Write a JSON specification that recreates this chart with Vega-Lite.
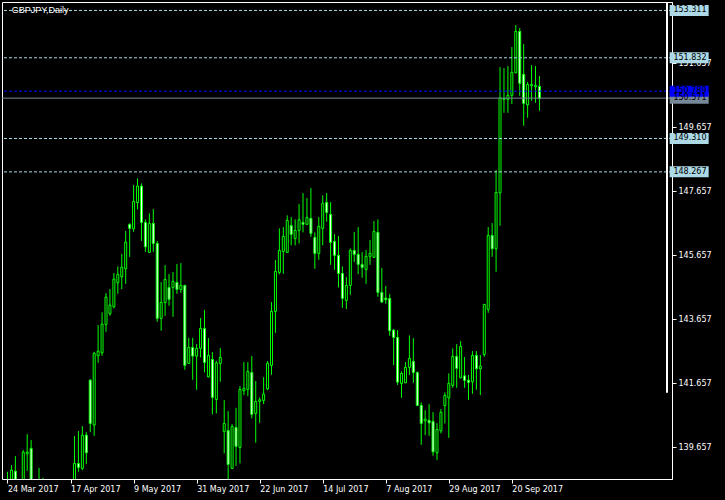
{
"$schema":"https://vega.github.io/schema/vega-lite/v6.json",
"width":670,"height":477,
"autosize":{"type":"none"},
"padding":{"left":2,"top":2,"right":53,"bottom":21},
"background":"black",
"view":{"stroke":"white","strokeWidth":1,"fill":"black"},
"config":{"axis":{"labelColor":"white","tickColor":"white","domainColor":"white","grid":false,"labelFont":"DejaVu Sans","labelFontSize":8,"tickSize":4,"zindex":0}},
"datasets":{
"candles":[
{"i":0,"o":138.40,"h":138.894,"l":138.20,"c":138.60},
{"i":1,"o":138.55,"h":139.104,"l":138.45,"c":138.948},
{"i":2,"o":138.916,"h":139.385,"l":138.40,"c":138.50},
{"i":3,"o":138.50,"h":138.62,"l":138.25,"c":138.45},
{"i":4,"o":138.45,"h":139.573,"l":138.35,"c":139.51},
{"i":5,"o":139.457,"h":140.073,"l":138.926,"c":139.51},
{"i":6,"o":139.626,"h":139.885,"l":138.50,"c":138.60},
{"i":7,"o":138.60,"h":138.65,"l":138.20,"c":138.30},
{"i":8,"o":138.40,"h":139.02,"l":138.10,"c":138.30},
{"i":9,"o":138.35,"h":138.707,"l":138.00,"c":138.20},
{"i":10,"o":138.20,"h":138.55,"l":137.90,"c":138.10},
{"i":11,"o":138.10,"h":138.40,"l":137.80,"c":138.30},
{"i":12,"o":138.30,"h":138.60,"l":138.00,"c":138.15},
{"i":13,"o":138.15,"h":138.50,"l":137.85,"c":138.35},
{"i":14,"o":138.35,"h":138.62,"l":138.05,"c":138.25},
{"i":15,"o":138.25,"h":138.60,"l":137.95,"c":138.40},
{"i":16,"o":138.40,"h":138.64,"l":138.10,"c":138.50},
{"i":17,"o":138.55,"h":140.01,"l":138.45,"c":139.157},
{"i":18,"o":139.157,"h":140.166,"l":138.894,"c":139.032},
{"i":19,"o":139.001,"h":140.322,"l":138.948,"c":140.041},
{"i":20,"o":140.041,"h":140.135,"l":139.135,"c":139.488},
{"i":21,"o":141.76,"h":141.791,"l":140.135,"c":140.407},
{"i":22,"o":140.354,"h":142.644,"l":140.019,"c":142.594},
{"i":23,"o":142.519,"h":143.479,"l":142.301,"c":142.666},
{"i":24,"o":142.613,"h":143.876,"l":142.519,"c":143.51},
{"i":25,"o":143.501,"h":144.479,"l":143.269,"c":144.354},
{"i":26,"o":143.832,"h":144.604,"l":143.77,"c":144.104},
{"i":27,"o":144.051,"h":145.104,"l":144.001,"c":144.916},
{"i":28,"o":144.801,"h":145.313,"l":144.457,"c":145.063},
{"i":29,"o":144.988,"h":145.698,"l":144.604,"c":145.291},
{"i":30,"o":145.238,"h":146.416,"l":144.769,"c":146.073},
{"i":31,"o":146.626,"h":146.657,"l":145.613,"c":146.501},
{"i":32,"o":146.488,"h":147.854,"l":146.394,"c":147.344},
{"i":33,"o":147.31,"h":148.063,"l":147.094,"c":147.823},
{"i":34,"o":147.823,"h":147.907,"l":146.113,"c":146.688},
{"i":35,"o":146.688,"h":146.782,"l":145.769,"c":145.926},
{"i":36,"o":145.751,"h":146.97,"l":145.75,"c":146.657},
{"i":37,"o":146.657,"h":147.104,"l":145.769,"c":146.032},
{"i":38,"o":146.032,"h":146.104,"l":143.582,"c":143.688},
{"i":39,"o":143.688,"h":144.823,"l":143.301,"c":144.188},
{"i":40,"o":144.188,"h":145.354,"l":143.77,"c":144.907},
{"i":41,"o":144.657,"h":145.073,"l":144.082,"c":144.282},
{"i":42,"o":144.657,"h":145.135,"l":143.738,"c":144.844},
{"i":43,"o":144.813,"h":145.385,"l":144.457,"c":144.594},
{"i":44,"o":144.594,"h":145.416,"l":144.488,"c":144.719},
{"i":45,"o":144.719,"h":144.74,"l":142.082,"c":142.219},
{"i":46,"o":142.282,"h":143.082,"l":142.27,"c":142.782},
{"i":47,"o":142.782,"h":143.082,"l":141.769,"c":142.51},
{"i":48,"o":142.51,"h":142.885,"l":141.457,"c":142.751},
{"i":49,"o":142.751,"h":143.698,"l":142.469,"c":143.376},
{"i":50,"o":143.376,"h":143.948,"l":142.001,"c":142.313},
{"i":51,"o":141.863,"h":143.073,"l":141.844,"c":142.532},
{"i":52,"o":142.407,"h":142.635,"l":140.688,"c":141.219},
{"i":53,"o":141.157,"h":142.363,"l":140.719,"c":142.301},
{"i":54,"o":142.282,"h":142.76,"l":141.707,"c":142.469},
{"i":55,"o":140.157,"h":141.135,"l":139.469,"c":140.407},
{"i":56,"o":140.188,"h":140.791,"l":138.60,"c":139.126},
{"i":57,"o":139.001,"h":140.385,"l":138.99,"c":140.313},
{"i":58,"o":140.282,"h":140.894,"l":139.082,"c":139.688},
{"i":59,"o":139.657,"h":141.573,"l":139.157,"c":141.469},
{"i":60,"o":141.426,"h":142.323,"l":141.291,"c":141.501},
{"i":61,"o":141.469,"h":142.323,"l":141.26,"c":142.032},
{"i":62,"o":142.001,"h":142.51,"l":140.563,"c":140.688},
{"i":63,"o":140.719,"h":141.729,"l":139.801,"c":141.094},
{"i":64,"o":141.094,"h":141.219,"l":140.426,"c":141.144},
{"i":65,"o":141.126,"h":141.854,"l":141.01,"c":141.323},
{"i":66,"o":141.49,"h":142.354,"l":141.448,"c":142.291},
{"i":67,"o":142.219,"h":144.198,"l":141.926,"c":143.907},
{"i":68,"o":143.907,"h":145.51,"l":143.238,"c":145.157},
{"i":69,"o":145.126,"h":146.501,"l":145.063,"c":145.813},
{"i":70,"o":145.782,"h":146.541,"l":145.082,"c":146.251},
{"i":71,"o":145.751,"h":146.907,"l":145.74,"c":146.751},
{"i":72,"o":146.594,"h":146.854,"l":145.969,"c":146.313},
{"i":73,"o":146.188,"h":146.782,"l":145.969,"c":146.438},
{"i":74,"o":146.438,"h":147.26,"l":146.032,"c":146.769},
{"i":75,"o":146.688,"h":147.604,"l":146.376,"c":146.626},
{"i":76,"o":146.626,"h":147.448,"l":146.62,"c":146.844},
{"i":77,"o":146.813,"h":147.76,"l":146.238,"c":146.344},
{"i":78,"o":146.219,"h":146.376,"l":145.238,"c":145.719},
{"i":79,"o":145.719,"h":146.854,"l":145.52,"c":146.563},
{"i":80,"o":146.501,"h":147.532,"l":145.969,"c":147.282},
{"i":81,"o":147.313,"h":147.604,"l":146.707,"c":146.999},
{"i":82,"o":146.938,"h":147.323,"l":145.363,"c":146.063},
{"i":83,"o":146.094,"h":146.323,"l":145.207,"c":145.657},
{"i":84,"o":145.657,"h":146.26,"l":144.657,"c":145.094},
{"i":85,"o":145.094,"h":145.313,"l":144.019,"c":144.313},
{"i":86,"o":144.251,"h":144.979,"l":143.979,"c":144.719},
{"i":87,"o":144.719,"h":145.876,"l":144.426,"c":145.813},
{"i":88,"o":145.813,"h":146.385,"l":145.448,"c":145.688},
{"i":89,"o":145.688,"h":146.541,"l":145.073,"c":145.376},
{"i":90,"o":145.376,"h":145.76,"l":144.957,"c":145.282},
{"i":91,"o":145.219,"h":145.823,"l":144.769,"c":145.626},
{"i":92,"o":145.626,"h":146.135,"l":145.363,"c":145.719},
{"i":93,"o":145.594,"h":146.729,"l":145.58,"c":146.407},
{"i":94,"o":146.376,"h":146.782,"l":144.363,"c":144.501},
{"i":95,"o":144.501,"h":145.26,"l":144.176,"c":144.198},
{"i":96,"o":144.323,"h":144.698,"l":144.145,"c":144.271},
{"i":97,"o":144.313,"h":144.448,"l":143.145,"c":143.301},
{"i":98,"o":143.323,"h":143.354,"l":142.229,"c":143.094},
{"i":99,"o":143.094,"h":143.323,"l":141.613,"c":141.698},
{"i":100,"o":141.657,"h":142.032,"l":141.207,"c":141.97},
{"i":101,"o":141.676,"h":142.323,"l":141.67,"c":142.157},
{"i":102,"o":142.157,"h":143.157,"l":141.916,"c":142.438},
{"i":103,"o":142.344,"h":143.073,"l":141.676,"c":142.001},
{"i":104,"o":142.001,"h":142.02,"l":140.95,"c":140.97},
{"i":105,"o":140.97,"h":141.063,"l":139.738,"c":140.407},
{"i":106,"o":140.488,"h":140.823,"l":140.041,"c":140.541},
{"i":107,"o":140.501,"h":141.01,"l":140.019,"c":140.426},
{"i":108,"o":140.469,"h":140.76,"l":139.395,"c":139.52},
{"i":109,"o":139.488,"h":140.416,"l":139.26,"c":140.219},
{"i":110,"o":140.176,"h":140.854,"l":140.094,"c":140.751},
{"i":111,"o":140.963,"h":141.376,"l":140.407,"c":141.282},
{"i":112,"o":141.207,"h":141.969,"l":139.957,"c":141.657},
{"i":113,"o":141.594,"h":142.751,"l":141.52,"c":142.501},
{"i":114,"o":142.501,"h":142.885,"l":141.52,"c":142.126},
{"i":115,"o":141.832,"h":142.979,"l":141.82,"c":142.813},
{"i":116,"o":141.894,"h":142.479,"l":141.52,"c":141.751},
{"i":117,"o":141.76,"h":141.916,"l":141.144,"c":141.688},
{"i":118,"o":141.707,"h":142.666,"l":141.332,"c":142.532},
{"i":119,"o":142.532,"h":142.666,"l":141.457,"c":142.113},
{"i":120,"o":142.113,"h":142.541,"l":141.291,"c":142.198},
{"i":121,"o":142.563,"h":144.14,"l":142.488,"c":144.126},
{"i":122,"o":143.97,"h":146.541,"l":143.863,"c":146.282},
{"i":123,"o":146.282,"h":146.666,"l":145.613,"c":145.863},
{"i":124,"o":145.863,"h":148.323,"l":145.145,"c":147.626},
{"i":125,"o":147.613,"h":151.541,"l":146.582,"c":150.582},
{"i":126,"o":150.532,"h":151.51,"l":150.113,"c":150.563},
{"i":127,"o":150.532,"h":151.573,"l":150.113,"c":150.657},
{"i":128,"o":150.657,"h":152.166,"l":150.385,"c":151.376},
{"i":129,"o":151.363,"h":152.854,"l":151.35,"c":152.657},
{"i":130,"o":152.657,"h":152.76,"l":150.644,"c":151.032},
{"i":131,"o":151.313,"h":152.26,"l":149.707,"c":150.407},
{"i":132,"o":150.363,"h":151.073,"l":149.957,"c":150.999},
{"i":133,"o":150.957,"h":151.604,"l":150.488,"c":150.999},
{"i":134,"o":150.926,"h":151.573,"l":150.426,"c":150.969},
{"i":135,"o":150.938,"h":151.26,"l":150.176,"c":150.563}
],
"levels":[
{"p":153.311,"k":"lvl"},{"p":151.832,"k":"lvl"},{"p":149.310,"k":"lvl"},{"p":148.267,"k":"lvl"},
{"p":150.571,"k":"bid"},{"p":150.789,"k":"ask"}
],
"caption":[{"t":"GBPJPY,Daily","i":1.05,"p":153.32}]
},
"layer":[
{"data":{"name":"candles"},
 "mark":{"type":"rule","color":"#00FF00","strokeWidth":1,"clip":true},
 "encoding":{
  "x":{"field":"i","type":"quantitative","title":null,
       "scale":{"domain":[-0.125,167.375],"nice":false,"zero":false},
       "axis":{"orient":"bottom","values":[0,16,32,48,64,80,96,112,128],"domain":false,"labelAlign":"left","labelBaseline":"top","labelPadding":2,"labelFlush":false,"labelOverlap":false,
               "labelExpr":"['24 Mar 2017','17 Apr 2017','9 May 2017','31 May 2017','22 Jun 2017','14 Jul 2017','7 Aug 2017','29 Aug 2017','20 Sep 2017'][round(datum.value/16)]"}},
  "y":{"field":"l","type":"quantitative","title":null,
       "scale":{"domain":[138.67,153.575],"nice":false,"zero":false},
       "axis":{"orient":"right","values":[139.657,140.657,141.657,142.657,143.657,144.657,145.657,146.657,147.657,148.657,149.657,150.657,151.657,152.657],"format":".3f","labelPadding":2,"labelBaseline":"middle","labelFlush":false,"labelOverlap":false}},
  "y2":{"field":"h"}
 }},
{"data":{"name":"candles"},
 "mark":{"type":"bar","width":2,"stroke":"#00FF00","strokeWidth":1,"clip":true},
 "encoding":{
  "x":{"field":"i","type":"quantitative","title":null},
  "y":{"field":"o","type":"quantitative","title":null},
  "y2":{"field":"c"},
  "fill":{"condition":{"test":"datum.c < datum.o","value":"white"},"value":"black"}
 }},
{"data":{"name":"levels"},
 "mark":{"type":"rule","strokeWidth":1},
 "encoding":{
  "y":{"field":"p","type":"quantitative","title":null},
  "color":{"field":"k","type":"nominal","legend":null,"scale":{"domain":["lvl","bid","ask"],"range":["#ADD8E6","#778899","#0000FF"]}},
  "strokeDash":{"field":"k","type":"nominal","legend":null,"scale":{"domain":["lvl","bid","ask"],"range":[[3,2],[1,0],[3,2]]}}
 }},
{"data":{"name":"levels"},
 "mark":{"type":"tick","orient":"horizontal","size":39,"thickness":11,"opacity":1},
 "encoding":{
  "x":{"datum":173},
  "y":{"field":"p","type":"quantitative","title":null},
  "color":{"field":"k","type":"nominal","legend":null}
 }},
{"data":{"name":"levels"},
 "mark":{"type":"text","align":"left","baseline":"middle","font":"DejaVu Sans","fontSize":8,"color":"black"},
 "encoding":{
  "x":{"datum":169},
  "y":{"field":"p","type":"quantitative","title":null},
  "text":{"field":"p","type":"quantitative","format":".3f"}
 }},
{"data":{"name":"caption"},
 "mark":{"type":"text","align":"left","baseline":"middle","font":"Liberation Sans","fontSize":9,"color":"white"},
 "encoding":{
  "x":{"field":"i","type":"quantitative"},
  "y":{"field":"p","type":"quantitative"},
  "text":{"field":"t","type":"nominal"}
 }},
{"data":{"values":[{}]},
 "mark":{"type":"rule","color":"white","strokeWidth":2},
 "encoding":{
  "x":{"datum":167.375},
  "y":{"datum":153.575},
  "y2":{"datum":141.363}
 }}
]
}
